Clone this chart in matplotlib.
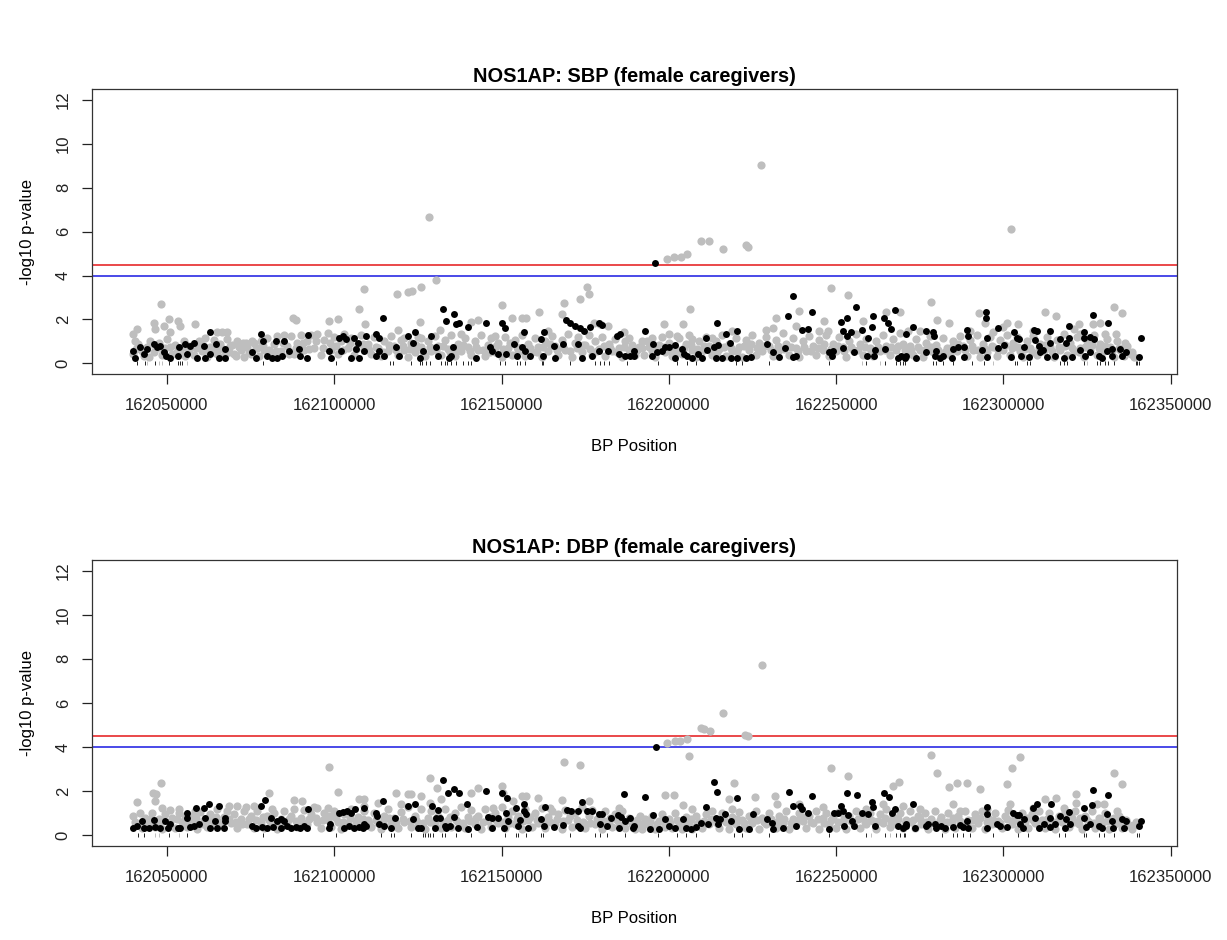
import numpy as np
import matplotlib.pyplot as plt

plt.rcParams['font.family'] = ['Liberation Sans', 'DejaVu Sans']

# positions are kb offsets from START_BP, heights are -log10 p
START_BP = 162_000_000

titles = ["NOS1AP: SBP (female caregivers)", "NOS1AP: DBP (female caregivers)"]
x_ticks = [162050000, 162100000, 162150000, 162200000, 162250000, 162300000, 162350000]
y_ticks = [0, 2, 4, 6, 8, 10, 12]
red_line = 4.5
blue_line = 4.0

# ---------------- SBP panel ----------------
sbp_grey = [
    (39.8, 1.33), (41.0, 1.56), (40.5, 1.03), (46.0, 1.86), (46.5, 1.56), (48.3, 2.70), (49.0, 1.71),
    (50.5, 2.02), (51.0, 1.45), (53.2, 1.94), (53.8, 1.71), (58.5, 1.79), (65.0, 1.41), (66.5, 1.41),
    (68.0, 1.41), (87.8, 2.05), (88.7, 1.97), (98.5, 1.94), (101.2, 2.02), (107.5, 2.47), (109.0, 3.38),
    (40.0, 0.45), (41.5, 0.9), (43.0, 0.35), (44.0, 0.75), (45.0, 1.0), (46.0, 0.5), (47.5, 0.95),
    (48.5, 0.4), (49.5, 0.7), (50.0, 1.1), (51.5, 0.45), (52.5, 0.85), (54.0, 0.6), (55.0, 1.0),
    (55.5, 0.35), (57.0, 0.8), (58.0, 0.4), (59.5, 1.0), (60.5, 0.55), (61.5, 1.15), (62.0, 0.3),
    (63.0, 0.75), (64.0, 1.05), (65.0, 0.45), (66.0, 0.9), (67.0, 0.35), (68.0, 1.1), (68.5, 0.5),
    (69.5, 0.85), (70.5, 0.35), (71.0, 1.0), (72.0, 0.6), (73.0, 0.3), (73.5, 0.95), (74.5, 0.5),
    (75.5, 1.0), (76.5, 0.7), (77.5, 0.35), (78.0, 1.0), (79.0, 0.6), (80.0, 1.15), (81.0, 0.4),
    (82.0, 0.9), (83.0, 1.25), (84.0, 0.55), (85.0, 1.3), (86.0, 0.8), (87.0, 1.25), (88.0, 0.45),
    (89.0, 0.95), (90.0, 1.3), (91.0, 0.6), (92.0, 1.0), (93.0, 1.3), (94.0, 0.7), (95.0, 1.35),
    (96.0, 0.4), (97.0, 1.05), (98.0, 1.4), (99.0, 0.6), (100.0, 1.2), (101.0, 0.45), (102.0, 1.0),
    (103.0, 1.35), (104.0, 0.7), (105.0, 1.15), (106.0, 0.4), (107.0, 0.9), (108.0, 1.3), (109.0, 0.6),
    (109.2, 1.79), (118.8, 3.18), (122.0, 3.23), (123.2, 3.30), (125.8, 3.50), (130.5, 3.79), (119.0, 1.52),
    (125.5, 1.89), (131.7, 1.52), (141.0, 1.89), (143.0, 1.97), (150.2, 2.65), (153.0, 2.09), (156.0, 2.05),
    (157.2, 2.09), (161.3, 2.36), (168.0, 2.27), (168.8, 2.74), (173.5, 2.92), (175.5, 3.50), (176.0, 3.15),
    (177.5, 1.86), (179.5, 1.79), (181.8, 1.71), (186.5, 1.45), (188.0, 1.18), (148.0, 1.26), (138.0, 1.33),
    (164.0, 1.48), (121.0, 1.18), (126.0, 1.18), (128.4, 6.67),
    (110.0, 0.9), (111.0, 0.45), (112.0, 1.2), (113.0, 0.7), (114.0, 0.35), (115.0, 1.0), (116.0, 0.55),
    (117.0, 1.25), (118.0, 0.8), (119.0, 0.4), (120.0, 1.05), (121.0, 0.6), (122.0, 0.3), (123.0, 0.95),
    (124.0, 0.5), (125.0, 1.2), (126.0, 0.75), (127.0, 0.35), (128.0, 1.0), (129.0, 0.55), (130.0, 1.25),
    (131.0, 0.8), (132.0, 0.4), (133.0, 1.05), (134.0, 0.65), (135.0, 1.3), (136.0, 0.35), (137.0, 0.9),
    (138.0, 0.55), (139.0, 1.15), (140.0, 0.75), (141.0, 0.4), (142.0, 1.0), (143.0, 0.6), (144.0, 1.3),
    (145.0, 0.35), (146.0, 0.85), (147.0, 1.15), (148.0, 0.5), (149.0, 0.95), (150.0, 0.3), (151.0, 1.2),
    (152.0, 0.7), (153.0, 0.4), (154.0, 1.05), (155.0, 0.6), (156.0, 1.3), (157.0, 0.35), (158.0, 0.9),
    (159.0, 0.5), (160.0, 1.15), (161.0, 0.75), (162.0, 0.3), (163.0, 1.0), (164.0, 0.55), (165.0, 1.25),
    (166.0, 0.8), (167.0, 0.4), (168.0, 1.05), (169.0, 0.6), (170.0, 1.35), (171.0, 0.3), (172.0, 0.95),
    (173.0, 1.2), (174.0, 0.5), (175.0, 0.85), (176.0, 1.3), (177.0, 0.4), (178.0, 1.0), (179.0, 0.65),
    (180.0, 1.2), (181.0, 0.35), (182.0, 0.9), (183.0, 0.55), (184.0, 1.1), (185.0, 0.7), (186.0, 0.3),
    (187.0, 1.0), (188.0, 0.6), (189.0, 0.85), (190.0, 0.4),
    (209.5, 5.58), (212.0, 5.58), (216.2, 5.20), (223.0, 5.39), (223.8, 5.30), (199.5, 4.74), (201.5, 4.82),
    (203.5, 4.85), (205.5, 5.00), (227.5, 9.03), (206.2, 2.47), (198.5, 1.79), (204.2, 1.79), (200.0, 1.33),
    (202.5, 1.26), (207.0, 1.11), (232.0, 2.09), (238.8, 2.39), (248.5, 3.45), (253.7, 3.11), (246.5, 1.91),
    (229.0, 1.52), (231.2, 1.61), (258.0, 1.94), (265.0, 2.32), (269.0, 2.36), (245.0, 1.48), (247.5, 1.48),
    (238.0, 1.71), (219.0, 1.48), (213.0, 1.18), (195.0, 1.18), (192.0, 1.03),
    (191.0, 0.75), (192.5, 0.4), (193.5, 1.0), (195.0, 0.55), (196.0, 0.3), (197.0, 0.85), (198.0, 1.2),
    (199.0, 0.5), (200.0, 0.95), (201.0, 0.35), (202.0, 0.75), (203.0, 1.15), (204.0, 0.45), (205.0, 0.9),
    (206.0, 1.3), (207.0, 0.6), (208.0, 0.3), (209.0, 1.0), (210.0, 0.55), (211.0, 1.2), (212.0, 0.8),
    (213.0, 0.4), (214.0, 1.0), (215.0, 0.65), (216.0, 1.3), (217.0, 0.35), (218.0, 0.9), (219.0, 0.55),
    (220.0, 1.15), (221.0, 0.75), (222.0, 0.3), (223.0, 1.05), (224.0, 0.6), (225.0, 1.3), (226.0, 0.4),
    (227.0, 0.95), (228.0, 0.55), (229.0, 1.2), (230.0, 0.8), (231.0, 0.35), (232.0, 1.05), (233.0, 0.6),
    (234.0, 1.4), (235.0, 0.9), (236.0, 0.4), (237.0, 1.15), (238.0, 0.7), (239.0, 0.3), (240.0, 1.0),
    (241.0, 0.55), (242.0, 1.25), (243.0, 0.8), (244.0, 0.4), (245.0, 1.05), (246.0, 0.6), (247.0, 1.3),
    (248.0, 0.35), (249.0, 0.9), (250.0, 0.55), (251.0, 1.2), (252.0, 0.75), (253.0, 0.3), (254.0, 1.0),
    (255.0, 0.6), (256.0, 1.35), (257.0, 0.9), (258.0, 0.4), (259.0, 1.1), (260.0, 0.7), (261.0, 0.35),
    (262.0, 1.0), (263.0, 0.55), (264.0, 1.3), (265.0, 0.8), (266.0, 0.4), (267.0, 1.1), (268.0, 0.6),
    (269.0, 1.4), (270.0, 0.9), (271.0, 0.35),
    (278.5, 2.80), (280.3, 1.98), (283.7, 1.86), (292.8, 2.29), (294.5, 1.86), (301.0, 1.86), (304.5, 1.79),
    (312.3, 2.35), (315.8, 2.14), (322.5, 1.79), (326.8, 1.79), (329.0, 1.86), (333.2, 2.58), (335.5, 2.29),
    (330.5, 1.33), (333.8, 1.33), (336.3, 0.95), (275.0, 1.48), (271.5, 1.48), (290.0, 1.48), (297.0, 1.41),
    (300.0, 1.64), (309.0, 1.48), (323.0, 1.33), (321.0, 1.56), (302.4, 6.11),
    (272.0, 0.8), (273.0, 0.4), (274.0, 1.1), (275.0, 0.6), (276.0, 0.3), (277.0, 0.95), (278.0, 1.25),
    (279.0, 0.5), (280.0, 0.85), (281.0, 0.35), (282.0, 1.15), (283.0, 0.7), (284.0, 0.4), (285.0, 1.0),
    (286.0, 0.55), (287.0, 1.25), (288.0, 0.8), (289.0, 0.35), (290.0, 1.05), (291.0, 0.6), (292.0, 1.3),
    (293.0, 0.3), (294.0, 0.9), (295.0, 0.5), (296.0, 1.2), (297.0, 0.75), (298.0, 0.35), (299.0, 1.05),
    (300.0, 0.6), (301.0, 1.3), (302.0, 0.4), (303.0, 0.95), (304.0, 1.2), (305.0, 0.55), (306.0, 0.3),
    (307.0, 1.0), (308.0, 0.7), (309.0, 1.25), (310.0, 0.4), (311.0, 0.9), (312.0, 0.55), (313.0, 1.2),
    (314.0, 0.75), (315.0, 0.3), (316.0, 1.05), (317.0, 0.6), (318.0, 1.35), (319.0, 0.4), (320.0, 0.95),
    (321.0, 0.55), (322.0, 1.2), (323.0, 0.7), (324.0, 0.3), (325.0, 1.0), (326.0, 0.6), (327.0, 1.3),
    (328.0, 0.4), (329.0, 0.9), (330.0, 0.55), (331.0, 1.1), (332.0, 0.75), (333.0, 0.3), (334.0, 1.0),
    (335.0, 0.6), (336.0, 0.35), (337.0, 0.8), (338.0, 0.45), (339.0, 0.3),
]

# middle of the dense grey band
sbp_grey_band = [
    (40.7, 0.65), (42.6, 0.55), (44.5, 0.3), (46.8, 0.7), (48.9, 0.55), (50.8, 0.75), (52.9, 0.5),
    (54.7, 0.75), (56.6, 0.6), (58.8, 0.7), (60.6, 0.85), (62.7, 0.55), (64.6, 0.6), (66.7, 0.65),
    (68.9, 0.8), (69.9, 0.45), (71.6, 0.75), (72.6, 0.95), (74.0, 0.75), (75.0, 0.45), (76.0, 0.95),
    (77.0, 0.7), (78.6, 0.8), (80.6, 0.6), (82.6, 0.55), (84.6, 0.95), (86.6, 0.45), (88.6, 0.7),
    (90.6, 0.95), (92.6, 0.65), (94.6, 1.0), (96.6, 0.7), (98.6, 0.95), (100.6, 0.8), (102.6, 0.6),
    (104.6, 0.95), (106.6, 0.65), (108.6, 0.9),
    (110.5, 0.6), (112.5, 0.75), (114.5, 0.5), (116.5, 0.85), (118.5, 0.6), (120.5, 0.8), (122.5, 0.65),
    (124.5, 0.85), (126.5, 0.5), (128.5, 0.75), (130.5, 0.6), (132.5, 0.8), (134.5, 0.5), (136.5, 0.65),
    (138.5, 0.85), (140.5, 0.55), (142.5, 0.75), (144.5, 0.6), (146.5, 0.5), (148.5, 0.8), (150.5, 0.65),
    (152.5, 0.95), (154.5, 0.75), (156.5, 0.55), (158.5, 0.7), (160.5, 0.5), (162.5, 0.75), (164.5, 0.9),
    (166.5, 0.6), (168.5, 0.75), (170.5, 0.55), (172.5, 0.7), (174.5, 0.85), (176.5, 0.65), (178.5, 0.55),
    (180.5, 0.8), (182.5, 0.7), (184.5, 0.5), (186.5, 0.75), (188.5, 0.55),
    (190.5, 0.6), (192.0, 0.7), (194.0, 0.75), (196.5, 0.6), (198.5, 0.75), (200.5, 0.6), (202.5, 0.5),
    (204.5, 0.7), (206.5, 0.85), (208.5, 0.65), (210.5, 0.8), (212.5, 0.6), (214.5, 0.5), (216.5, 0.75),
    (218.5, 0.7), (220.5, 0.55), (222.5, 0.8), (224.5, 0.9), (226.5, 0.7), (228.5, 0.8), (230.5, 0.6),
    (232.5, 0.8), (234.5, 0.65), (236.5, 0.75), (238.5, 0.55), (240.5, 0.75), (242.5, 0.55), (244.5, 0.7),
    (246.5, 0.9), (248.5, 0.65), (250.5, 0.8), (252.5, 0.55), (254.5, 0.75), (256.5, 0.6), (258.5, 0.75),
    (260.5, 0.55), (262.5, 0.75), (264.5, 0.6), (266.5, 0.75), (268.5, 0.8),
    (270.5, 0.6), (272.5, 0.6), (274.5, 0.75), (276.5, 0.6), (278.5, 0.75), (280.5, 0.6), (282.5, 0.5),
    (284.5, 0.75), (286.5, 0.9), (288.5, 0.6), (290.5, 0.8), (292.5, 0.6), (294.5, 0.65), (296.5, 0.8),
    (298.5, 0.6), (300.5, 0.85), (302.5, 0.7), (304.5, 0.75), (306.5, 0.65), (308.5, 0.5), (310.5, 0.7),
    (312.5, 0.85), (314.5, 0.55), (316.5, 0.75), (318.5, 0.8), (320.5, 0.7), (322.5, 0.5), (324.5, 0.75),
    (326.5, 0.85), (328.5, 0.7), (330.5, 0.8), (332.5, 0.55), (334.5, 0.7), (336.5, 0.55), (338.5, 0.5),
]

sbp_black = [
    (40.0, 0.58), (40.5, 0.27), (42.0, 0.73), (43.0, 0.42), (44.0, 0.65), (46.0, 0.88), (47.0, 0.73),
    (48.0, 0.80), (49.0, 0.50), (49.8, 0.35), (51.0, 0.27), (53.5, 0.73), (53.2, 0.35), (55.5, 0.88),
    (56.0, 0.42), (57.0, 0.80), (58.2, 0.91), (59.0, 0.27), (61.0, 0.80), (61.5, 0.27), (62.8, 1.41),
    (63.0, 0.42), (64.8, 0.88), (65.5, 0.27), (67.5, 0.65), (67.5, 0.27), (75.5, 0.50), (76.5, 0.27),
    (78.2, 1.33), (78.8, 1.03), (80.0, 0.35), (81.5, 0.27), (82.5, 1.03), (83.0, 0.27), (84.5, 0.35),
    (85.0, 1.03), (86.5, 0.58), (89.5, 0.65), (89.8, 0.35), (91.8, 0.27), (92.2, 1.30), (98.5, 0.58),
    (99.0, 0.27), (101.5, 1.18), (102.0, 0.58), (102.5, 1.26), (103.5, 1.11), (105.0, 0.27), (106.0, 1.18),
    (106.5, 0.65), (107.0, 0.95), (107.5, 0.27), (109.0, 0.58),
    (109.5, 1.26), (112.5, 1.33), (113.5, 1.18), (114.5, 2.09), (112.5, 0.35), (113.5, 0.58), (115.0, 0.35),
    (118.5, 0.73), (119.5, 0.35), (122.0, 1.26), (123.5, 0.95), (124.0, 1.41), (126.5, 0.58), (125.5, 0.27),
    (129.0, 1.26), (130.5, 0.73), (131.0, 0.35), (132.5, 2.47), (133.5, 1.94), (134.2, 0.27), (135.0, 0.35),
    (135.8, 2.24), (136.5, 1.79), (137.2, 1.86), (135.5, 0.76), (140.0, 1.67), (142.5, 0.27), (145.5, 1.86),
    (146.5, 0.73), (147.3, 0.58), (149.0, 0.42), (150.0, 1.82), (151.0, 1.61), (151.2, 0.42), (153.8, 0.88),
    (154.5, 0.35), (156.0, 0.73), (156.7, 1.41), (157.0, 0.58), (158.5, 0.35), (161.8, 1.11), (162.8, 1.41),
    (162.5, 0.35), (165.8, 0.80), (166.0, 0.27), (168.5, 0.88), (169.2, 1.98), (170.5, 1.86), (172.0, 1.71),
    (172.8, 0.88), (173.5, 1.61), (174.8, 1.48), (176.5, 1.67), (174.0, 0.27), (177.0, 0.35), (179.2, 1.82),
    (180.0, 1.76), (179.2, 0.58), (181.8, 0.58), (184.5, 1.26), (185.5, 1.36), (185.0, 0.42), (187.0, 0.35),
    (188.5, 0.35), (189.5, 0.58),
    (196.0, 4.59), (192.8, 1.48), (189.5, 0.35), (195.0, 0.35), (195.3, 0.88), (196.5, 0.50), (198.0, 0.58),
    (199.0, 0.73), (200.0, 0.76), (201.8, 0.85), (202.0, 0.27), (204.0, 0.65), (204.5, 0.42), (205.5, 0.35),
    (207.0, 0.27), (208.8, 0.45), (210.0, 0.27), (211.0, 1.15), (211.5, 0.61), (213.5, 0.73), (214.0, 0.27),
    (214.5, 1.86), (214.8, 0.85), (216.0, 0.27), (217.0, 1.36), (218.3, 0.95), (218.5, 0.27), (220.5, 1.48),
    (220.5, 0.27), (223.0, 0.27), (224.5, 0.30), (229.2, 0.88), (231.0, 0.50), (233.0, 0.30), (234.8, 0.70),
    (235.7, 2.17), (237.2, 3.08), (237.0, 0.30), (238.0, 0.35), (239.8, 1.52), (241.5, 1.56), (242.8, 2.32),
    (248.0, 0.50), (248.8, 0.35), (249.0, 0.58), (251.5, 1.89), (252.2, 0.70), (253.2, 2.05), (252.2, 1.48),
    (253.3, 1.26), (254.5, 1.41), (255.5, 0.50), (256.0, 2.59), (257.7, 1.52), (259.5, 1.18), (259.2, 0.35),
    (260.7, 1.67), (261.0, 2.17), (261.5, 0.61), (261.2, 0.35), (264.2, 2.05), (264.7, 0.65), (265.5, 1.86),
    (266.5, 1.56), (267.5, 2.44), (268.5, 0.27), (269.5, 0.35), (270.5, 0.27),
    (271.0, 1.33), (273.0, 1.67), (271.0, 0.35), (274.0, 0.27), (277.0, 1.48), (279.0, 1.45), (279.2, 1.26),
    (276.8, 0.50), (280.0, 0.58), (279.5, 0.35), (281.0, 0.27), (282.0, 0.35), (284.8, 0.65), (284.5, 0.27),
    (286.5, 0.73), (288.3, 0.76), (288.2, 0.30), (289.2, 1.52), (289.5, 1.23), (293.5, 0.61), (294.8, 2.35),
    (294.8, 2.05), (295.0, 1.18), (295.0, 0.30), (298.3, 0.70), (298.5, 1.61), (300.2, 0.83), (302.2, 0.30),
    (303.3, 1.45), (304.0, 1.18), (304.8, 1.11), (305.2, 0.35), (306.2, 0.73), (307.8, 0.30), (309.2, 1.52),
    (310.0, 1.48), (310.5, 0.80), (309.5, 1.06), (311.0, 0.50), (311.8, 0.61), (313.0, 0.30), (314.0, 1.48),
    (313.8, 0.91), (315.5, 0.35), (317.0, 1.11), (318.2, 0.27), (318.7, 0.91), (319.5, 1.71), (319.7, 1.15),
    (320.5, 0.30), (323.0, 0.61), (324.0, 1.41), (324.0, 1.18), (324.5, 0.35), (326.0, 1.21), (326.0, 0.53),
    (326.8, 2.20), (327.0, 1.11), (328.5, 0.35), (329.5, 0.27), (331.0, 0.55), (331.2, 1.82), (332.5, 0.65),
    (332.5, 0.35), (335.0, 0.65), (335.5, 0.35), (336.5, 0.50), (340.5, 0.30), (341.0, 1.15),
]

sbp_rug_black = [41.0, 43.5, 46.5, 50.5, 53.2, 53.8, 54.5, 78.8, 100.5,
                 116.8, 117.5, 122.8, 125.5, 126.3, 127.5, 128.5, 132.0, 133.0, 133.8, 135.0, 136.5,
                 138.5, 140.0, 141.0, 149.5, 151.0, 154.5, 155.5, 157.0, 162.0, 162.5, 170.5, 178.0,
                 179.5, 180.5, 182.0, 187.5, 196.8, 202.5, 205.5, 208.0, 220.0, 222.0, 230.0, 247.8,
                 259.0, 264.5, 268.0, 269.0, 270.0, 270.5, 279.0, 280.0, 282.0, 284.8, 290.5, 294.2,
                 303.5, 304.0, 307.0, 308.0, 317.0, 318.0, 319.0, 324.0, 328.0, 329.0, 330.5, 331.2,
                 333.0, 339.5, 340.0, 340.5]
sbp_rug_grey = [44.0, 47.5, 48.5, 56.0, 257.8, 263.0, 296.8, 325.0]

# ---------------- DBP panel ----------------
dbp_grey = [
    (41.0, 1.53), (42.0, 1.03), (39.8, 0.88), (45.8, 1.94), (46.8, 1.86), (48.2, 2.39), (46.5, 1.56),
    (48.5, 1.23), (50.8, 1.14), (53.5, 1.18), (58.5, 1.11), (55.5, 0.88), (68.5, 1.33), (71.0, 1.33),
    (73.5, 1.29), (76.0, 1.33), (80.5, 1.94), (81.5, 1.18), (88.0, 1.61), (90.5, 1.56), (95.0, 1.26),
    (98.5, 3.11), (98.0, 1.26), (101.2, 1.97), (107.5, 1.64), (108.8, 1.33),
    (40.5, 0.6), (42.5, 0.35), (43.5, 0.8), (44.5, 0.5), (45.5, 1.0), (46.5, 0.4), (47.5, 0.75),
    (48.5, 0.3), (49.5, 0.95), (50.5, 0.55), (51.5, 0.8), (52.5, 0.35), (53.5, 1.0), (54.5, 0.6),
    (56.0, 0.4), (57.0, 0.9), (58.0, 0.55), (59.0, 0.3), (60.0, 1.05), (61.0, 0.7), (62.0, 0.4),
    (63.0, 0.95), (64.0, 0.6), (65.0, 1.2), (66.0, 0.45), (67.0, 0.85), (68.0, 1.1), (69.0, 0.55),
    (70.0, 0.95), (71.0, 0.35), (72.0, 0.75), (73.0, 1.1), (74.0, 0.5), (75.0, 0.9), (76.0, 0.35),
    (77.0, 1.1), (78.0, 0.6), (79.0, 0.35), (80.0, 0.9), (81.0, 0.5), (82.0, 1.0), (83.0, 0.3),
    (84.0, 0.75), (85.0, 1.1), (86.0, 0.5), (87.0, 0.9), (88.0, 1.2), (89.0, 0.4), (90.0, 0.8),
    (91.0, 1.15), (92.0, 0.5), (93.0, 0.95), (94.0, 1.3), (95.0, 0.6), (96.0, 0.35), (97.0, 1.0),
    (98.0, 0.7), (99.0, 0.4), (100.0, 1.1), (101.0, 0.6), (102.0, 0.3), (103.0, 0.95), (104.0, 0.55),
    (105.0, 1.2), (106.0, 0.4), (107.0, 0.85), (108.0, 0.5), (109.0, 1.1),
    (128.5, 2.58), (130.8, 2.17), (118.5, 1.94), (122.0, 1.89), (123.0, 1.89), (125.8, 1.79), (132.0, 1.64),
    (141.0, 1.94), (143.0, 2.14), (150.2, 2.24), (150.5, 1.94), (156.0, 1.79), (157.2, 1.79), (161.0, 1.68),
    (168.8, 3.33), (173.5, 3.20), (168.0, 1.59), (113.0, 1.48), (120.0, 1.41), (128.5, 1.48), (147.5, 1.26),
    (153.5, 1.56), (164.5, 1.26), (176.0, 1.56), (185.0, 1.26), (109.0, 1.64),
    (110.0, 0.7), (111.0, 0.4), (112.0, 1.0), (113.0, 0.55), (114.0, 0.3), (115.0, 0.9), (116.0, 1.2),
    (117.0, 0.5), (118.0, 0.8), (119.0, 0.35), (120.0, 1.05), (121.0, 0.6), (122.0, 1.3), (123.0, 0.4),
    (124.0, 0.9), (125.0, 0.55), (126.0, 1.2), (127.0, 0.3), (128.0, 0.8), (129.0, 1.1), (130.0, 0.5),
    (131.0, 0.9), (132.0, 0.35), (133.0, 1.2), (134.0, 0.7), (135.0, 0.4), (136.0, 1.0), (137.0, 0.6),
    (138.0, 1.3), (139.0, 0.35), (140.0, 0.85), (141.0, 1.15), (142.0, 0.5), (143.0, 0.9), (144.0, 0.3),
    (145.0, 1.2), (146.0, 0.65), (147.0, 0.4), (148.0, 1.0), (149.0, 0.55), (150.0, 1.3), (151.0, 0.35),
    (152.0, 0.85), (153.0, 1.1), (154.0, 0.5), (155.0, 0.9), (156.0, 0.3), (157.0, 1.2), (158.0, 0.7),
    (159.0, 0.4), (160.0, 1.0), (161.0, 0.55), (162.0, 1.25), (163.0, 0.35), (164.0, 0.85), (165.0, 1.1),
    (166.0, 0.5), (167.0, 0.95), (168.0, 0.3), (169.0, 1.15), (170.0, 0.7), (171.0, 0.4), (172.0, 1.0),
    (173.0, 0.55), (174.0, 1.3), (175.0, 0.35), (176.0, 0.9), (177.0, 1.15), (178.0, 0.5), (179.0, 0.8),
    (180.0, 0.3), (181.0, 1.1), (182.0, 0.6), (183.0, 0.4), (184.0, 0.95), (185.0, 0.55), (186.0, 1.1),
    (187.0, 0.35), (188.0, 0.8), (189.0, 0.5), (190.0, 0.3),
    (199.5, 4.17), (201.8, 4.29), (203.3, 4.29), (205.5, 4.36), (206.0, 3.61), (209.5, 4.85), (210.5, 4.82),
    (212.3, 4.71), (216.2, 5.53), (222.7, 4.56), (223.7, 4.50), (227.8, 7.70), (199.0, 1.83), (201.5, 1.83),
    (204.2, 1.38), (207.0, 1.18), (218.0, 1.64), (219.5, 2.39), (219.0, 1.18), (225.8, 1.74), (231.8, 1.79),
    (232.2, 1.41), (248.5, 3.05), (253.5, 2.67), (267.0, 2.24), (268.8, 2.42), (246.0, 1.30), (264.0, 1.41),
    (191.5, 0.88), (239.0, 1.41), (259.0, 1.18), (270.0, 1.33),
    (191.0, 0.5), (192.0, 0.3), (193.0, 0.75), (194.0, 0.45), (195.0, 0.9), (196.0, 0.3), (197.0, 0.65),
    (198.0, 0.95), (199.0, 0.4), (200.0, 0.75), (201.0, 0.35), (202.0, 1.0), (203.0, 0.55), (204.0, 0.3),
    (205.0, 0.85), (206.0, 0.5), (207.0, 0.3), (208.0, 0.9), (209.0, 0.6), (210.0, 0.35), (211.0, 0.95),
    (212.0, 0.5), (213.0, 1.1), (214.0, 0.7), (215.0, 0.35), (216.0, 1.0), (217.0, 0.6), (218.0, 0.3),
    (219.0, 0.85), (220.0, 0.5), (221.0, 1.05), (222.0, 0.7), (223.0, 0.35), (224.0, 0.9), (225.0, 0.55),
    (226.0, 1.1), (227.0, 0.3), (228.0, 0.8), (229.0, 0.5), (230.0, 1.0), (231.0, 0.6), (232.0, 0.35),
    (233.0, 0.9), (234.0, 0.55), (235.0, 1.1), (236.0, 0.3), (237.0, 0.75), (238.0, 0.5), (239.0, 1.0),
    (240.0, 0.65), (241.0, 0.35), (242.0, 0.9), (243.0, 0.55), (244.0, 1.1), (245.0, 0.3), (246.0, 0.8),
    (247.0, 1.0), (248.0, 0.5), (249.0, 0.85), (250.0, 0.35), (251.0, 1.05), (252.0, 0.6), (253.0, 0.3),
    (254.0, 0.9), (255.0, 0.55), (256.0, 1.1), (257.0, 0.35), (258.0, 0.8), (259.0, 0.5), (260.0, 1.0),
    (261.0, 0.65), (262.0, 0.3), (263.0, 0.95), (264.0, 0.55), (265.0, 1.2), (266.0, 0.4), (267.0, 0.85),
    (268.0, 0.5), (269.0, 1.0), (270.0, 0.35), (271.0, 0.7),
    (278.5, 3.65), (280.3, 2.85), (283.7, 2.20), (286.0, 2.39), (289.2, 2.39), (293.0, 2.09), (301.0, 2.32),
    (302.5, 3.05), (305.0, 3.53), (284.8, 1.41), (302.0, 1.41), (312.5, 1.64), (315.8, 1.68), (321.8, 1.89),
    (321.8, 1.48), (328.0, 1.44), (330.0, 1.44), (333.2, 2.85), (335.5, 2.35), (275.0, 1.18), (272.0, 1.11),
    (287.0, 1.11), (295.0, 1.18), (309.0, 1.26), (318.0, 1.26), (334.0, 1.11),
    (272.5, 0.6), (273.5, 0.35), (274.5, 0.9), (275.5, 0.5), (276.5, 1.0), (277.5, 0.3), (278.5, 0.75),
    (279.5, 1.1), (280.5, 0.45), (281.5, 0.85), (282.5, 0.3), (283.5, 1.0), (284.5, 0.6), (285.5, 0.35),
    (286.5, 0.9), (287.5, 0.5), (288.5, 1.1), (289.5, 0.7), (290.5, 0.35), (291.5, 0.95), (292.5, 0.55),
    (293.5, 1.1), (294.5, 0.3), (295.5, 0.8), (296.5, 0.5), (297.5, 1.0), (298.5, 0.65), (299.5, 0.35),
    (300.5, 0.9), (301.5, 1.15), (302.5, 0.5), (303.5, 0.85), (304.5, 0.3), (305.5, 1.0), (306.5, 0.6),
    (307.5, 0.35), (308.5, 0.95), (309.5, 0.55), (310.5, 1.1), (311.5, 0.7), (312.5, 0.35), (313.5, 1.0),
    (314.5, 0.55), (315.5, 0.3), (316.5, 0.9), (317.5, 0.6), (318.5, 1.05), (319.5, 0.4), (320.5, 0.8),
    (321.5, 1.1), (322.5, 0.5), (323.5, 0.3), (324.5, 0.9), (325.5, 0.6), (326.5, 1.1), (327.5, 0.35),
    (328.5, 0.8), (329.5, 0.55), (330.5, 1.0), (331.5, 0.3), (332.5, 0.75), (333.5, 0.5), (334.5, 0.9),
    (335.5, 0.35), (336.5, 0.7), (337.5, 0.45), (338.5, 0.3), (339.5, 0.6),
]

dbp_grey_band = [
    (40.8, 0.45), (42.7, 0.6), (44.8, 0.75), (46.9, 0.6), (48.9, 0.65), (51.0, 0.6), (52.9, 0.75),
    (55.0, 0.65), (56.9, 0.6), (58.8, 0.8), (60.9, 0.5), (62.8, 0.7), (64.8, 0.85), (66.6, 0.6),
    (68.6, 0.75), (70.6, 0.6), (72.5, 0.5), (74.6, 0.75), (76.6, 0.7), (78.6, 0.85), (80.6, 0.7),
    (82.6, 0.55), (84.6, 0.5), (86.6, 0.75), (88.6, 0.65), (90.6, 0.55), (92.6, 0.75), (94.6, 0.8),
    (96.6, 0.7), (98.6, 0.9), (100.6, 0.8), (102.6, 0.6), (104.6, 0.8), (106.6, 0.65), (108.6, 0.75),
    (110.5, 0.55), (112.5, 0.7), (114.5, 0.6), (116.5, 0.8), (118.5, 0.55), (120.5, 0.75), (122.5, 0.65),
    (124.5, 0.7), (126.5, 0.55), (128.5, 0.6), (130.5, 0.75), (132.5, 0.6), (134.5, 0.85), (136.5, 0.7),
    (138.5, 0.55), (140.5, 0.65), (142.5, 0.8), (144.5, 0.6), (146.5, 0.85), (148.5, 0.7), (150.5, 0.6),
    (152.5, 0.55), (154.5, 0.75), (156.5, 0.65), (158.5, 0.85), (160.5, 0.7), (162.5, 0.55), (164.5, 0.6),
    (166.5, 0.75), (168.5, 0.65), (170.5, 0.9), (172.5, 0.7), (174.5, 0.6), (176.5, 0.55), (178.5, 0.75),
    (180.5, 0.65), (182.5, 0.8), (184.5, 0.7), (186.5, 0.6), (188.5, 0.65),
    (190.5, 0.7), (192.5, 0.55), (194.5, 0.65), (196.5, 0.5), (198.5, 0.6), (200.5, 0.55), (202.5, 0.7),
    (204.5, 0.6), (206.5, 0.75), (208.5, 0.5), (210.5, 0.65), (212.5, 0.75), (214.5, 0.55), (216.5, 0.7),
    (218.5, 0.6), (220.5, 0.75), (222.5, 0.55), (224.5, 0.65), (226.5, 0.7), (228.5, 0.6), (230.5, 0.75),
    (232.5, 0.6), (234.5, 0.75), (236.5, 0.55), (238.5, 0.7), (240.5, 0.85), (242.5, 0.6), (244.5, 0.75),
    (246.5, 0.55), (248.5, 0.7), (250.5, 0.6), (252.5, 0.8), (254.5, 0.65), (256.5, 0.75), (258.5, 0.6),
    (260.5, 0.7), (262.5, 0.65), (264.5, 0.8), (266.5, 0.65), (268.5, 0.75),
    (270.5, 0.55), (273.0, 0.7), (275.0, 0.75), (277.0, 0.6), (279.0, 0.55), (281.0, 0.7), (283.0, 0.6),
    (285.0, 0.8), (287.0, 0.65), (289.0, 0.5), (291.0, 0.7), (293.0, 0.8), (295.0, 0.6), (297.0, 0.7),
    (299.0, 0.55), (301.0, 0.75), (303.0, 0.65), (305.0, 0.6), (307.0, 0.8), (309.0, 0.7), (311.0, 0.55),
    (313.0, 0.75), (315.0, 0.6), (317.0, 0.75), (319.0, 0.7), (321.0, 0.6), (323.0, 0.8), (325.0, 0.7),
    (327.0, 0.55), (329.0, 0.75), (331.0, 0.65), (333.0, 0.8), (335.0, 0.6), (337.0, 0.55), (339.0, 0.45),
]

dbp_black = [
    (40.0, 0.32), (41.0, 0.42), (42.5, 0.65), (43.0, 0.35), (44.5, 0.32), (46.0, 0.68), (46.5, 0.38),
    (48.0, 0.35), (49.5, 0.65), (50.2, 0.35), (51.0, 0.50), (53.2, 0.32), (54.0, 0.35), (56.0, 1.03),
    (56.0, 0.77), (56.8, 0.38), (58.0, 0.42), (58.8, 1.26), (59.5, 0.50), (61.0, 1.26), (61.5, 0.80),
    (62.5, 1.44), (62.8, 0.35), (64.5, 0.65), (65.0, 0.32), (65.5, 1.33), (67.0, 0.35), (67.5, 0.80),
    (67.5, 0.65), (75.5, 0.42), (76.5, 0.35), (78.2, 1.33), (79.2, 1.59), (78.5, 0.38), (80.0, 0.32),
    (81.2, 0.80), (81.8, 0.38), (83.0, 0.65), (84.0, 0.73), (85.0, 0.65), (84.0, 0.35), (86.0, 0.42),
    (87.0, 0.32), (88.5, 0.38), (89.8, 0.35), (91.0, 0.42), (92.2, 1.21), (92.0, 0.32), (98.8, 0.53),
    (98.5, 0.32), (101.5, 1.03), (102.5, 1.06), (103.8, 1.11), (105.0, 1.03), (106.2, 1.18), (103.0, 0.35),
    (104.5, 0.42), (106.0, 0.35), (107.5, 0.38), (109.0, 0.50), (109.0, 1.26),
    (109.5, 0.42), (108.5, 0.35), (112.5, 1.03), (112.8, 0.88), (114.5, 1.56), (113.5, 0.53), (114.8, 0.42),
    (117.0, 0.32), (118.3, 0.77), (122.0, 1.33), (124.2, 1.41), (123.5, 0.73), (125.0, 0.35), (126.0, 0.32),
    (129.2, 1.33), (130.5, 0.80), (131.0, 1.14), (131.5, 0.77), (132.5, 2.50), (130.2, 0.35), (133.0, 0.42),
    (133.5, 0.35), (134.0, 1.94), (134.5, 0.42), (135.8, 2.09), (137.3, 1.94), (135.8, 0.83), (137.0, 0.32),
    (139.8, 1.44), (140.0, 0.27), (142.8, 0.38), (145.5, 2.02), (146.0, 0.83), (147.2, 0.77), (149.0, 0.77),
    (147.2, 0.32), (150.0, 1.94), (151.5, 1.68), (151.2, 1.03), (152.0, 0.65), (150.8, 0.35), (154.2, 1.23),
    (155.0, 0.42), (155.5, 0.68), (156.8, 1.44), (156.8, 1.11), (157.3, 0.95), (158.0, 0.32), (161.7, 0.73),
    (163.0, 1.29), (162.8, 0.42), (165.8, 0.38), (168.5, 0.47), (169.5, 1.14), (170.8, 1.11), (173.0, 1.11),
    (174.2, 1.53), (175.5, 1.11), (177.0, 1.11), (173.0, 0.42), (173.5, 0.35), (179.0, 0.98), (179.5, 0.53),
    (180.0, 0.98), (181.5, 0.42), (182.8, 0.77), (184.8, 0.92), (185.8, 0.83), (186.5, 1.86), (187.0, 0.65),
    (185.2, 0.35), (188.5, 0.80), (189.2, 0.32),
    (196.2, 4.02), (192.8, 1.74), (189.5, 0.42), (195.2, 0.92), (194.5, 0.27), (197.0, 0.27), (198.8, 0.73),
    (200.0, 0.42), (202.0, 0.35), (204.2, 0.73), (205.0, 0.32), (206.5, 0.27), (208.0, 0.38), (209.5, 0.58),
    (211.0, 1.29), (211.8, 0.50), (213.5, 2.44), (214.5, 1.97), (214.0, 0.80), (214.8, 0.50), (215.2, 0.73),
    (216.8, 0.95), (218.5, 0.65), (220.5, 1.71), (221.0, 0.27), (224.0, 0.27), (225.2, 0.98), (229.2, 0.73),
    (230.8, 0.58), (231.0, 0.27), (234.0, 0.32), (235.8, 1.97), (237.2, 1.33), (238.0, 0.42), (239.2, 1.33),
    (239.8, 1.18), (241.5, 1.03), (242.8, 1.79), (248.0, 0.27), (249.5, 1.03), (250.5, 1.03), (251.5, 1.33),
    (252.0, 1.11), (252.5, 0.42), (253.5, 0.92), (253.3, 1.91), (254.8, 0.65), (256.2, 1.83), (255.5, 0.42),
    (257.8, 1.03), (259.5, 0.95), (260.8, 1.53), (261.0, 1.30), (261.5, 0.42), (264.2, 1.91), (265.8, 1.74),
    (266.8, 1.03), (267.5, 1.18), (268.5, 0.42), (270.0, 0.35), (271.0, 0.50),
    (271.0, 0.42), (273.0, 1.44), (273.5, 0.35), (276.8, 0.42), (277.5, 0.50), (279.5, 0.53), (280.0, 0.35),
    (281.5, 0.42), (282.5, 0.32), (284.8, 0.38), (287.0, 0.47), (288.0, 0.38), (289.0, 0.65), (289.5, 0.35),
    (295.0, 1.30), (295.0, 0.98), (295.0, 0.35), (298.2, 0.50), (299.0, 0.42), (301.0, 0.38), (303.0, 1.03),
    (304.0, 0.92), (304.8, 0.92), (305.0, 0.50), (305.8, 0.35), (306.2, 0.73), (309.0, 1.23), (310.0, 1.41),
    (309.5, 0.80), (310.5, 0.32), (312.0, 0.50), (313.8, 0.80), (314.2, 1.41), (314.0, 0.38), (315.5, 0.50),
    (317.0, 0.88), (318.5, 0.32), (318.8, 0.73), (319.5, 1.08), (320.0, 0.50), (324.0, 1.26), (324.0, 0.80),
    (324.8, 0.38), (326.8, 2.05), (326.5, 1.36), (325.8, 0.53), (328.5, 0.42), (329.5, 0.35), (331.2, 1.83),
    (331.0, 0.98), (332.5, 0.65), (332.8, 0.35), (335.5, 0.73), (336.5, 0.65), (336.0, 0.35), (340.5, 0.42),
    (341.0, 0.65),
]

dbp_rug_black = [41.5, 43.0, 50.5, 56.0, 78.8, 100.5,
                 114.0, 117.0, 117.8, 122.8, 126.5, 127.2, 128.0, 128.5, 129.5, 132.3, 133.2, 136.5,
                 141.0, 151.0, 154.2, 155.0, 157.2, 161.8, 162.5, 170.5, 178.0, 179.5, 181.5, 187.0,
                 196.8, 202.5, 205.2, 208.0, 219.5, 222.0, 229.8, 247.8, 259.0, 264.5, 268.0, 269.0,
                 270.2, 270.5, 281.8, 284.8, 286.2, 287.8, 290.0, 296.8, 304.5, 307.5, 316.5, 318.5,
                 324.0, 324.8, 328.5, 330.0, 333.0, 340.0, 340.5]
dbp_rug_grey = [46.5, 47.5, 53.5, 260.5, 266.0]


def to_bp(kb):
    return START_BP + np.asarray(kb, dtype=float) * 1000


def draw_panel(ax, title, grey, band, black, rug_black, rug_grey):
    g = np.array(band + grey)
    b = np.array(black)
    ax.plot(to_bp(g[:, 0]), g[:, 1], 'o', color='#bebebe', ms=5.9, mew=0, zorder=2)
    ax.plot(to_bp(b[:, 0]), b[:, 1], 'o', color='black', ms=5.0, mew=0, zorder=3)
    ax.plot(to_bp(rug_grey), np.zeros(len(rug_grey)), '|', color='#bebebe', ms=3.3, mew=0.7, zorder=2)
    ax.plot(to_bp(rug_black), np.zeros(len(rug_black)), '|', color='#222222', ms=3.3, mew=0.7, zorder=3)
    ax.axhline(red_line, color='#e8393c', lw=1.3, zorder=1)
    ax.axhline(blue_line, color='#3b3be6', lw=1.3, zorder=1)

    ax.set_xlim(162027500, 162351800)
    ax.set_ylim(-0.48, 12.48)
    ax.set_xticks(x_ticks)
    ax.set_xticklabels([str(t) for t in x_ticks])
    ax.set_yticks(y_ticks)
    ax.set_yticklabels([str(t) for t in y_ticks], rotation=90, va='center')
    ax.tick_params(axis='x', length=7, width=0.9, pad=10, labelsize=12, colors='#222222')
    ax.tick_params(axis='y', length=7, width=0.9, pad=8, labelsize=12, colors='#222222')
    for s in ax.spines.values():
        s.set_color('#333333')
        s.set_linewidth(0.9)

    ax.set_title(title, fontsize=14.4, fontweight='bold', pad=5)
    ax.set_xlabel("BP Position", fontsize=12, labelpad=19)
    ax.set_ylabel("-log10 p-value", fontsize=12, labelpad=15)


fig = plt.figure(figsize=(12.27, 9.4), dpi=100)
ax1 = fig.add_axes([0.0747, 0.6021, 0.8843, 0.3032])
ax2 = fig.add_axes([0.0747, 0.1000, 0.8843, 0.3043])

draw_panel(ax1, titles[0], sbp_grey, sbp_grey_band, sbp_black, sbp_rug_black, sbp_rug_grey)
draw_panel(ax2, titles[1], dbp_grey, dbp_grey_band, dbp_black, dbp_rug_black, dbp_rug_grey)

fig.savefig("out.png", dpi=100)
